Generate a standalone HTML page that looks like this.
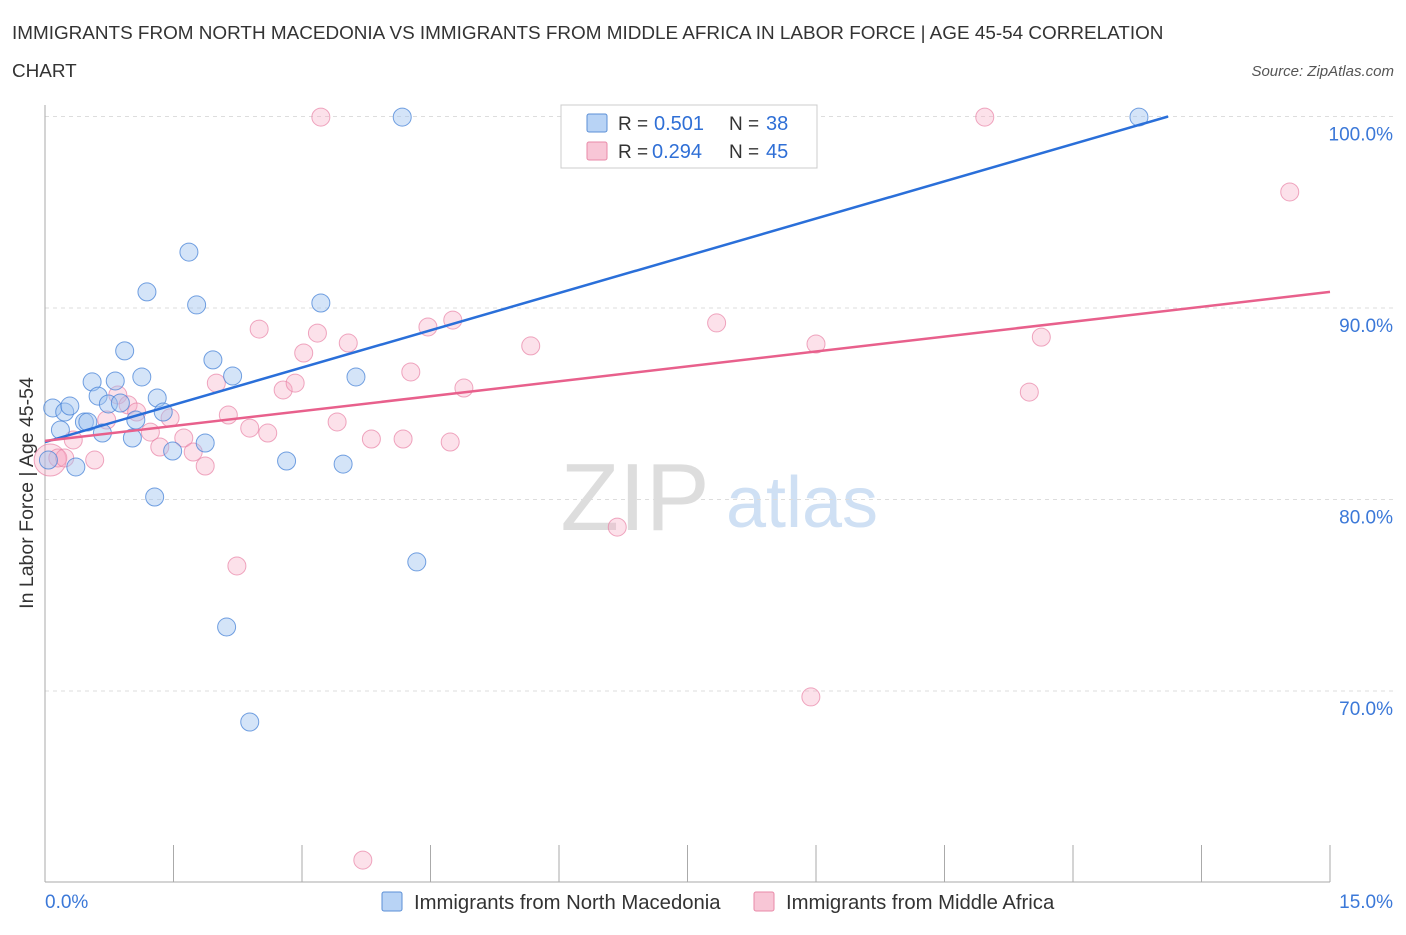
<!DOCTYPE html>
<html><head><meta charset="utf-8"><style>
body{margin:0;background:#fff;font-family:"Liberation Sans",sans-serif}
svg text{font-family:"Liberation Sans",sans-serif}
</style></head><body>
<svg id="c" width="1406" height="930">
<text x="12" y="39" font-size="18.9" fill="#333">IMMIGRANTS FROM NORTH MACEDONIA VS IMMIGRANTS FROM MIDDLE AFRICA IN LABOR FORCE | AGE 45-54 CORRELATION</text>
<text x="12" y="77" font-size="18.9" fill="#333">CHART</text>
<text x="1394" y="76" font-size="15" fill="#555" font-style="italic" text-anchor="end">Source: ZipAtlas.com</text>
<text x="635" y="530" font-size="96" fill="#ddd" font-family="Liberation Serif" text-anchor="middle">ZIP</text>
<text x="802" y="527" font-size="72" fill="#cfe0f4" text-anchor="middle">atlas</text>
<text transform="translate(33,493) rotate(-90)" font-size="19.5" fill="#333" text-anchor="middle">In Labor Force | Age 45-54</text>
<g id="grid"></g><g id="pts"></g><g id="lines"></g>
<g>
<rect x="561" y="105" width="256" height="63" fill="#fff" stroke="#ccc"/>
<rect x="587" y="114" width="20" height="18" fill="#b8d3f5" stroke="#5b8fd6" rx="2"/>
<text x="618" y="130" font-size="19" fill="#333">R =</text>
<text x="654" y="130" font-size="20" fill="#2f6fd6">0.501</text>
<text x="729" y="130" font-size="19" fill="#333">N =</text>
<text x="766" y="130" font-size="20" fill="#2f6fd6">38</text>
<rect x="587" y="142" width="20" height="18" fill="#f8c6d6" stroke="#e88aa8" rx="2"/>
<text x="618" y="158" font-size="19" fill="#333">R =</text>
<text x="652" y="158" font-size="20" fill="#2f6fd6">0.294</text>
<text x="729" y="158" font-size="19" fill="#333">N =</text>
<text x="766" y="158" font-size="20" fill="#2f6fd6">45</text>
</g>
<g>
<rect x="382" y="892" width="20" height="19" fill="#b8d3f5" stroke="#5b8fd6" rx="2"/>
<text x="414" y="909" font-size="20.3" fill="#333">Immigrants from North Macedonia</text>
<rect x="754" y="892" width="20" height="19" fill="#f8c6d6" stroke="#e88aa8" rx="2"/>
<text x="786" y="909" font-size="20.3" fill="#333">Immigrants from Middle Africa</text>
</g>
</svg>
<script>
const blueX=[0.09,0.18,0.23,0.29,0.36,0.46,0.50,0.55,0.62,0.67,0.74,0.82,0.88,0.93,1.02,1.06,1.13,1.19,1.28,1.31,1.38,1.49,1.68,1.77,1.87,1.96,2.19,2.12,2.39,2.82,3.22,3.48,3.63,4.17,4.34,12.77,8.07,0.04];
const blueY=[84.78,83.63,84.57,84.88,81.70,84.05,84.05,86.14,85.40,83.47,84.99,86.19,85.04,87.76,83.21,84.15,86.40,90.84,80.13,85.30,84.57,82.53,92.92,90.16,82.95,87.29,86.45,73.34,68.38,82.01,90.26,81.85,86.40,99.97,76.74,99.97,99.97,82.06];
const pinkX=[0.06,0.15,0.23,0.33,0.58,0.72,0.85,0.97,1.07,1.23,1.34,1.46,1.62,1.73,1.87,2.00,2.14,2.24,2.39,2.50,2.60,2.78,2.92,3.02,3.18,3.22,3.41,3.54,3.71,3.81,4.18,4.27,4.47,4.73,4.76,4.89,5.67,6.68,7.84,8.94,9.00,10.97,11.49,11.63,14.53];
const pinkY=[82.06,82.17,82.17,83.11,82.06,84.15,85.46,84.94,84.57,83.52,82.74,84.26,83.21,82.48,81.75,86.08,84.41,76.53,83.73,88.90,83.47,85.72,86.08,87.65,88.69,99.97,84.05,88.17,61.17,83.16,83.16,86.66,89.01,83.00,89.37,85.82,88.02,78.56,89.22,69.69,88.12,99.97,85.61,88.48,96.06];
const yTicks=[100,90,80,70];
const xTickLabels=["0.0%","15.0%"];
const blueTrend=[0,83.0,13.11,100];
const pinkTrend=[0,83.06,15,90.84];
const NS="http://www.w3.org/2000/svg";
const sx=v=>45+v/15*1285, sy=v=>116.5+(100-v)*19.15;
function mk(t,a,p){const e=document.createElementNS(NS,t);for(const k in a)e.setAttribute(k,a[k]);p.appendChild(e);return e;}
const grid=document.getElementById('grid');
yTicks.forEach(v=>{
 const l=mk('line',{x1:45,x2:1395,y1:sy(v),y2:sy(v),stroke:'#ddd','stroke-dasharray':'4,4'},grid);
 
 
 const t=mk('text',{x:1393,y:sy(v)+24,'font-size':19,fill:'#3b78d8','text-anchor':'end'},grid);
 t.textContent=v.toFixed(1)+'%';
 
 
});
const ax=mk('line',{x1:45,x2:45,y1:105,y2:882,stroke:'#aaa'},grid);


const bx=mk('line',{x1:45,x2:1330,y1:882,y2:882,stroke:'#aaa'},grid);


for(let i=0;i<=10;i++){const x=sx(i*1.5);const t=mk('line',{x1:x,x2:x,y1:845,y2:882,stroke:'#aaa'},grid);
 
 }
[[0,'start',45],[15,'end',1393]].forEach((d,i)=>{const t=mk('text',{x:d[2],y:908,'font-size':19,fill:'#3b78d8','text-anchor':d[1]},grid);t.textContent=xTickLabels[i];
 
 });
const pts=document.getElementById('pts');
pinkX.forEach((x,i)=>{const c=mk('circle',{cx:sx(x),cy:sy(pinkY[i]),r:i==0?16:9,fill:'rgba(246,170,195,0.35)',stroke:'rgba(232,130,165,0.7)','stroke-width':1},pts);
 
 });
blueX.forEach((x,i)=>{const c=mk('circle',{cx:sx(x),cy:sy(blueY[i]),r:9,fill:'rgba(160,195,240,0.45)',stroke:'rgba(70,130,215,0.75)','stroke-width':1},pts);
 
 });
const lines=document.getElementById('lines');
const b=mk('line',{x1:sx(blueTrend[0]),y1:sy(blueTrend[1]),x2:sx(blueTrend[2]),y2:sy(blueTrend[3]),stroke:'#2a6fd9','stroke-width':2.5},lines);


const p=mk('line',{x1:sx(pinkTrend[0]),y1:sy(pinkTrend[1]),x2:sx(pinkTrend[2]),y2:sy(pinkTrend[3]),stroke:'#e8608c','stroke-width':2.5},lines);


</script>
</body></html>
